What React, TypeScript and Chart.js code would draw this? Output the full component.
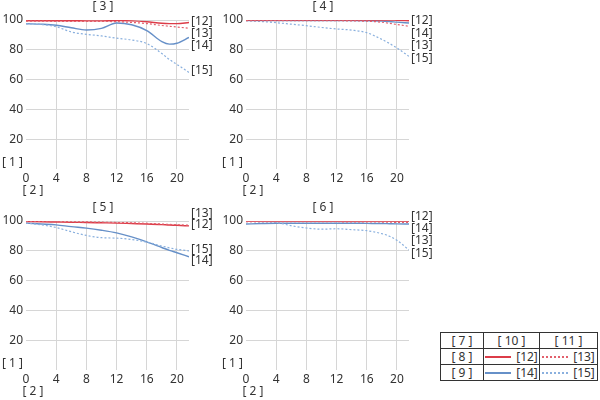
import React, { useEffect, useRef } from 'react';
import { Chart, registerables } from 'chart.js';

Chart.register(...registerables);

const FONT = '"Noto Sans", sans-serif';
const TEXT = '#333333';
const RED = '#dc3c48';
const RED_DOT = '#e2606c';
const BLUE = '#6690c8';
const BLUE_DOT = '#8ab0de';
const GRID = '#d6d6d6';

// image height in mm (x axis)
const xPositions = [0, 2, 4, 6, 8, 10, 12, 14, 16, 18, 19, 20, 21.6];
const xTicks = [0, 4, 8, 12, 16, 20];
const yTicks = [0, 20, 40, 60, 80, 100];

// panel [ 3 ]
const p3Red = [99.5, 99.5, 99.5, 99.5, 99.4, 99.4, 99.6, 99.4, 98.8, 97.8, 97.6, 97.6, 98.3];
const p3RedDot = [99.2, 99.2, 99.1, 99.0, 99.0, 99.0, 98.9, 98.4, 97.6, 96.3, 95.8, 95.3, 94.5];
const p3Blue = [97.5, 97.2, 96.5, 94.8, 93.3, 94.4, 98.0, 96.8, 92.9, 85.5, 83.8, 84.4, 88.3];
const p3BlueDot = [97.5, 97.0, 95.5, 92.0, 90.4, 89.3, 87.8, 86.6, 84.2, 77.5, 73.5, 70.2, 64.8];
const p3Labels = [98.7, 90.7, 82.7, 66.0]; // [12] [13] [14] [15]

// panel [ 4 ]
const p4Red = [100, 100, 100, 100, 100, 100, 100, 100, 100, 100, 100, 99.8, 99.5];
const p4RedDot = [99.6, 99.6, 99.6, 99.5, 99.5, 99.5, 99.5, 99.4, 99.2, 98.5, 97.8, 97.0, 95.8];
const p4Blue = [99.7, 99.7, 99.6, 99.6, 99.6, 99.6, 99.6, 99.6, 99.5, 99.3, 99.0, 98.6, 98.0];
const p4BlueDot = [99.6, 99.0, 98.2, 97.2, 96.2, 95.0, 94.0, 93.2, 91.5, 87.0, 84.3, 81.2, 75.6];
const p4Labels = [99.3, 82.7, 90.9, 73.8];

// panel [ 5 ]
const p5Red = [99.6, 99.5, 99.3, 99.1, 99.0, 98.8, 98.6, 98.3, 98.0, 97.6, 97.3, 97.1, 96.7];
const p5RedDot = [99.8, 99.7, 99.6, 99.5, 99.4, 99.2, 99.0, 98.8, 98.4, 98.0, 97.7, 97.5, 97.2];
const p5Blue = [98.6, 98.0, 97.4, 96.2, 95.2, 93.8, 92.0, 89.3, 86.0, 82.2, 80.3, 78.7, 76.0];
const p5BlueDot = [98.6, 97.5, 95.6, 92.8, 90.3, 88.8, 88.5, 87.6, 85.8, 83.2, 82.0, 81.0, 80.0];
const p5Labels = [97.3, 105.0, 73.3, 80.7];

// panel [ 6 ]
const p6Red = [100, 100, 100, 100, 100, 100, 100, 100, 100, 100, 100, 100, 99.9];
const p6RedDot = [99.6, 99.6, 99.6, 99.5, 99.5, 99.5, 99.5, 99.4, 99.4, 99.3, 99.2, 99.1, 99.0];
const p6Blue = [98.0, 98.3, 98.5, 98.5, 98.5, 98.5, 98.5, 98.5, 98.4, 98.3, 98.2, 98.1, 98.0];
const p6BlueDot = [99.6, 99.4, 99.0, 96.8, 95.3, 94.5, 94.8, 94.2, 93.5, 91.5, 89.8, 87.0, 80.6];
const p6Labels = [103.3, 86.9, 95.1, 78.4];

const seriesNames = ['[12]', '[13]', '[14]', '[15]'];

interface PanelProps {
    title: string;
    red: number[];
    redDot: number[];
    blue: number[];
    blueDot: number[];
    labels: number[];
    left: number;
    top: number;
}

const toPoints = (values: number[]) => values.map((v, i) => ({ x: xPositions[i], y: v }));

// draws panel title, axis captions and end-of-line labels
const textPlugin = {
    id: 'mtfText',
    afterDraw(chart: any, _args: any, opts: any) {
        const { ctx, chartArea } = chart;
        const yScale = chart.scales.y;
        ctx.save();
        ctx.fillStyle = TEXT;
        ctx.font = `12px ${FONT}`;
        ctx.textBaseline = 'middle';

        ctx.textAlign = 'center';
        ctx.fillText(opts.title, chartArea.left + 77, 7);
        ctx.fillText('[ 2 ]', 33, chartArea.bottom + 22);

        ctx.textAlign = 'left';
        ctx.fillText('[ 1 ]', 2, chartArea.bottom - 6);

        opts.labels.forEach((v: number, i: number) => {
            ctx.fillText(seriesNames[i], chartArea.right + 2, yScale.getPixelForValue(v));
        });
        ctx.restore();
    },
};

const Panel: React.FC<PanelProps> = ({ title, red, redDot, blue, blueDot, labels, left, top }) => {
    const canvasRef = useRef<HTMLCanvasElement>(null);

    useEffect(() => {
        if (!canvasRef.current) return;
        const line = (data: number[], color: string, dotted: boolean) => ({
            data: toPoints(data),
            borderColor: color,
            borderWidth: dotted ? 1.2 : 1.4,
            borderDash: dotted ? [2, 2] : [],
            pointRadius: 0,
            fill: false,
            cubicInterpolationMode: 'monotone' as const,
        });

        const chart = new Chart(canvasRef.current, {
            type: 'line',
            data: {
                datasets: [
                    line(redDot, RED_DOT, true),
                    line(red, RED, false),
                    line(blueDot, BLUE_DOT, true),
                    line(blue, BLUE, false),
                ],
            },
            options: {
                responsive: false,
                animation: false,
                layout: { padding: { top: 20, right: 31, left: 0, bottom: 0 } },
                plugins: {
                    legend: { display: false },
                    tooltip: { enabled: false },
                    mtfText: { title, labels },
                } as any,
                scales: {
                    x: {
                        type: 'linear',
                        min: 0,
                        max: 21.6,
                        afterBuildTicks: (axis: any) => {
                            axis.ticks = xTicks.map((v) => ({ value: v }));
                        },
                        afterFit: (axis: any) => {
                            axis.height = 31;
                        },
                        border: { display: false },
                        grid: {
                            drawTicks: false,
                            color: (c: any) => (c.tick && c.tick.value === 0 ? 'rgba(0,0,0,0)' : GRID),
                        },
                        ticks: {
                            padding: 2,
                            color: TEXT,
                            font: { family: FONT, size: 12 },
                            maxRotation: 0,
                        },
                    },
                    y: {
                        min: 0,
                        max: 100,
                        afterBuildTicks: (axis: any) => {
                            axis.ticks = yTicks.map((v) => ({ value: v }));
                        },
                        afterFit: (axis: any) => {
                            axis.width = 26;
                        },
                        border: { display: false },
                        grid: {
                            drawTicks: false,
                            color: (c: any) => (c.tick && c.tick.value === 0 ? 'rgba(0,0,0,0)' : GRID),
                        },
                        ticks: {
                            padding: 3,
                            color: TEXT,
                            font: { family: FONT, size: 12 },
                            callback: (v: any) => (v === 0 ? '' : String(v)),
                        },
                    },
                },
            },
            plugins: [textPlugin],
        });

        return () => {
            chart.destroy();
        };
    }, [title, red, redDot, blue, blueDot, labels]);

    return (
        <canvas
            ref={canvasRef}
            width={220}
            height={200}
            style={{ position: 'absolute', left, top, width: 220, height: 200 }}
        />
    );
};

const cell: React.CSSProperties = {
    border: '1px solid #333',
    padding: 0,
    textAlign: 'center',
    height: 15,
};

const sample = (color: string, dotted: boolean) => (
    <span
        style={{
            display: 'inline-block',
            width: 26,
            borderTop: dotted ? `2px dotted ${color}` : `2px solid ${color}`,
            verticalAlign: 'middle',
            marginRight: 5,
        }}
    />
);

const LegendTable: React.FC = () => (
    <table
        style={{
            position: 'absolute',
            left: 440,
            top: 332,
            borderCollapse: 'collapse',
            fontFamily: FONT,
            fontSize: 12,
            color: TEXT,
            lineHeight: '14px',
        }}
    >
        <tbody>
            <tr>
                <td style={{ ...cell, width: 42 }}>[ 7 ]</td>
                <td style={{ ...cell, width: 55 }}>[ 10 ]</td>
                <td style={{ ...cell, width: 57 }}>[ 11 ]</td>
            </tr>
            <tr>
                <td style={cell}>[ 8 ]</td>
                <td style={cell}>{sample(RED, false)}[12]</td>
                <td style={cell}>{sample(RED_DOT, true)}[13]</td>
            </tr>
            <tr>
                <td style={cell}>[ 9 ]</td>
                <td style={cell}>{sample(BLUE, false)}[14]</td>
                <td style={cell}>{sample(BLUE_DOT, true)}[15]</td>
            </tr>
        </tbody>
    </table>
);

export default function App() {
    return (
        <div style={{ position: 'fixed', left: 0, top: 0, width: 600, height: 400, background: '#fff' }}>
            <Panel title="[ 3 ]" red={p3Red} redDot={p3RedDot} blue={p3Blue} blueDot={p3BlueDot} labels={p3Labels} left={0} top={0} />
            <Panel title="[ 4 ]" red={p4Red} redDot={p4RedDot} blue={p4Blue} blueDot={p4BlueDot} labels={p4Labels} left={220} top={0} />
            <Panel title="[ 5 ]" red={p5Red} redDot={p5RedDot} blue={p5Blue} blueDot={p5BlueDot} labels={p5Labels} left={0} top={201} />
            <Panel title="[ 6 ]" red={p6Red} redDot={p6RedDot} blue={p6Blue} blueDot={p6BlueDot} labels={p6Labels} left={220} top={201} />
            <LegendTable />
        </div>
    );
}
